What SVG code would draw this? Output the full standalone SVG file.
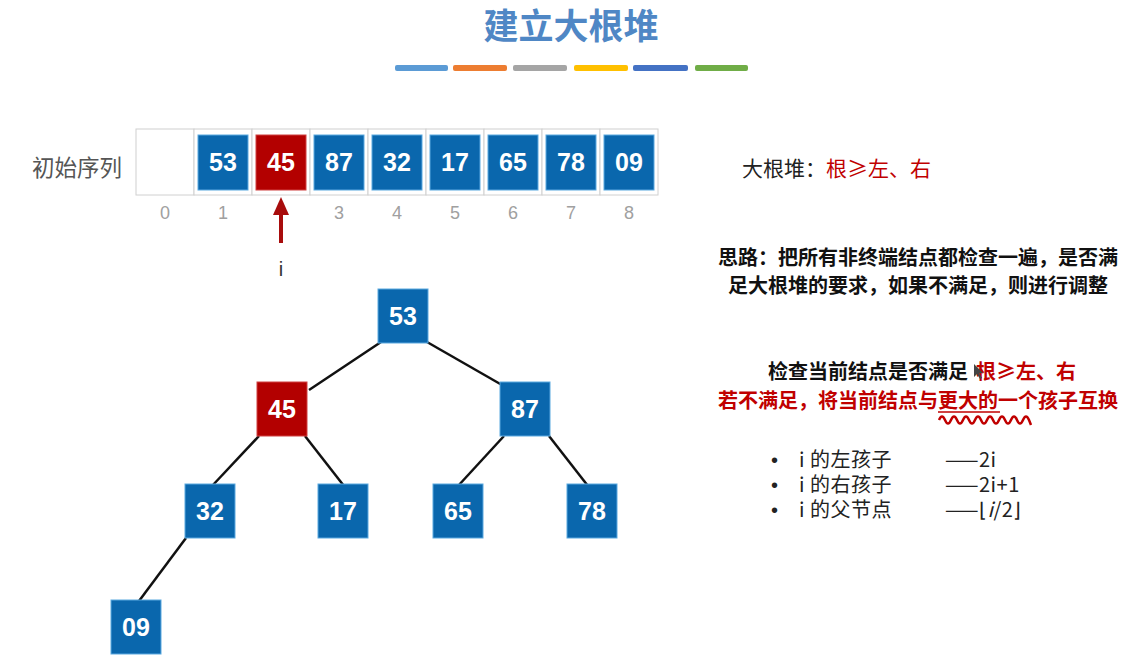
<svg xmlns="http://www.w3.org/2000/svg" width="1138" height="655" viewBox="0 0 1138 655">
<style>
.cell{fill:#fff;stroke:#d0d0d0;stroke-width:1}
.blue{fill:#0a67ad;stroke:#5aa9e0;stroke-width:1}
.red{fill:#b30000;stroke:#d04040;stroke-width:1}
.num{font-family:"Liberation Sans",Arial,sans-serif;font-weight:bold;font-size:25px;fill:#fff;text-anchor:middle}
.idx{font-family:"Liberation Sans",Arial,sans-serif;font-size:18px;fill:#a0a0a0;text-anchor:middle}
.cn{font-family:"Noto Sans CJK SC",sans-serif}
.edge{stroke:#111;stroke-width:2.5;fill:none}
.bul{font-family:"Noto Sans CJK SC",sans-serif;font-size:20px;fill:#222;letter-spacing:0.5px}
.dot{font-family:"Liberation Sans",Arial,sans-serif;font-size:20px;fill:#222}
</style>
<rect width="1138" height="655" fill="#fff"/>
<text x="571" y="39" class="cn" font-size="35" font-weight="bold" fill="#4f87c5" text-anchor="middle">建立大根堆</text>
<g id="bars">
<rect x="395" y="65" width="53" height="6" rx="2" fill="#5b9bd5"/>
<rect x="453" y="65" width="54" height="6" rx="2" fill="#ed7d31"/>
<rect x="513" y="65" width="54" height="6" rx="2" fill="#a5a5a5"/>
<rect x="574" y="65" width="54" height="6" rx="2" fill="#ffc000"/>
<rect x="633" y="65" width="55" height="6" rx="2" fill="#4472c4"/>
<rect x="695" y="65" width="53" height="6" rx="2" fill="#70ad47"/>
</g>
<text x="32" y="176" class="cn" font-size="22.5" fill="#555">初始序列</text>
<g id="array">
<rect class="cell" x="136" y="129" width="58" height="66"/>
<rect class="cell" x="194" y="129" width="58" height="66"/>
<rect class="cell" x="252" y="129" width="58" height="66"/>
<rect class="cell" x="310" y="129" width="58" height="66"/>
<rect class="cell" x="368" y="129" width="58" height="66"/>
<rect class="cell" x="426" y="129" width="58" height="66"/>
<rect class="cell" x="484" y="129" width="58" height="66"/>
<rect class="cell" x="542" y="129" width="58" height="66"/>
<rect class="cell" x="600" y="129" width="58" height="66"/>
<g id="a1"><rect class="blue" x="198" y="135" width="50" height="55"/><text class="num" x="223" y="171">53</text></g>
<g id="a2"><rect class="red" x="256" y="135" width="50" height="55"/><text class="num" x="281" y="171">45</text></g>
<g id="a3"><rect class="blue" x="314" y="135" width="50" height="55"/><text class="num" x="339" y="171">87</text></g>
<g id="a4"><rect class="blue" x="372" y="135" width="50" height="55"/><text class="num" x="397" y="171">32</text></g>
<g id="a5"><rect class="blue" x="430" y="135" width="50" height="55"/><text class="num" x="455" y="171">17</text></g>
<g id="a6"><rect class="blue" x="488" y="135" width="50" height="55"/><text class="num" x="513" y="171">65</text></g>
<g id="a7"><rect class="blue" x="546" y="135" width="50" height="55"/><text class="num" x="571" y="171">78</text></g>
<g id="a8"><rect class="blue" x="604" y="135" width="50" height="55"/><text class="num" x="629" y="171">09</text></g>
<text class="idx" x="165" y="219">0</text>
<text class="idx" x="223" y="219">1</text>
<text class="idx" x="339" y="219">3</text>
<text class="idx" x="397" y="219">4</text>
<text class="idx" x="455" y="219">5</text>
<text class="idx" x="513" y="219">6</text>
<text class="idx" x="571" y="219">7</text>
<text class="idx" x="629" y="219">8</text>
</g>
<g id="pointer">
<line x1="281" y1="243" x2="281" y2="212" stroke="#a80c0c" stroke-width="4"/>
<polygon points="273,215 289,215 281,197" fill="#a80c0c"/>
<text x="281" y="276" font-family="Liberation Sans, Arial, sans-serif" font-size="20" fill="#333" text-anchor="middle">i</text>
</g>
<g id="connectors">
<line class="edge" x1="381" y1="342" x2="309" y2="390"/>
<line class="edge" x1="427" y1="342" x2="502" y2="385"/>
<line class="edge" x1="259" y1="436" x2="212" y2="486"/>
<line class="edge" x1="305" y1="436" x2="344" y2="486"/>
<line class="edge" x1="504" y1="436" x2="458" y2="486"/>
<line class="edge" x1="549" y1="436" x2="588" y2="486"/>
<line class="edge" x1="186" y1="538" x2="139" y2="601"/>
</g>
<g id="n53"><rect class="blue" x="378" y="289" width="50" height="54"/><text class="num" x="403" y="325">53</text></g>
<g id="n45"><rect class="red" x="257" y="382" width="50" height="54"/><text class="num" x="282" y="418">45</text></g>
<g id="n87"><rect class="blue" x="500" y="382" width="50" height="54"/><text class="num" x="525" y="418">87</text></g>
<g id="n32"><rect class="blue" x="185" y="484" width="50" height="54"/><text class="num" x="210" y="520">32</text></g>
<g id="n17"><rect class="blue" x="318" y="484" width="50" height="54"/><text class="num" x="343" y="520">17</text></g>
<g id="n65"><rect class="blue" x="433" y="484" width="50" height="54"/><text class="num" x="458" y="520">65</text></g>
<g id="n78"><rect class="blue" x="567" y="484" width="50" height="54"/><text class="num" x="592" y="520">78</text></g>
<g id="n09"><rect class="blue" x="111" y="600" width="50" height="54"/><text class="num" x="136" y="636">09</text></g>
<g id="notes">
<text x="742" y="176" class="cn" font-size="21" fill="#222">大根堆：<tspan fill="#c00000">根≥左、右</tspan></text>
<text x="918" y="265" class="cn" font-size="20" font-weight="bold" fill="#111" text-anchor="middle">思路：把所有非终端结点都检查一遍，是否满</text>
<text x="918" y="293" class="cn" font-size="20" font-weight="bold" fill="#111" text-anchor="middle">足大根堆的要求，如果不满足，则进行调整</text>
<text x="768" y="379" class="cn" font-size="20" font-weight="bold" fill="#111">检查当前结点是否满足<tspan dx="8" fill="#c00000">根≥左、右</tspan></text>
<polygon points="974,364 974,377 977,374 980,379 982,378 979,373 983,373" fill="#444"/>
<text x="918" y="408" class="cn" font-size="20" font-weight="bold" fill="#c00000" text-anchor="middle">若不满足，将当前结点与更大的一个孩子互换</text>
<line x1="938" y1="412" x2="1000" y2="412" stroke="#c00000" stroke-width="1.5"/>
<path d="M939,420 q3,-7 6,0 q3,7 6,0 q3,-7 6,0 q3,7 6,0 q3,-7 6,0 q3,7 6,0 q3,-7 6,0 q3,7 6,0 q3,-7 6,0 q3,7 6,0 q3,-7 6,0 q3,7 6,0 q3,-7 6,0 q3,7 6,0 q3,-7 6,0 l2,5" fill="none" stroke="#c00000" stroke-width="2.5"/>
<text class="dot" x="771" y="467">•</text>
<text class="bul" x="799" y="467">i 的左孩子</text>
<text class="bul" x="945" y="467">——2i</text>
<text class="dot" x="771" y="492">•</text>
<text class="bul" x="799" y="492">i 的右孩子</text>
<text class="bul" x="945" y="492">——2i+1</text>
<text class="dot" x="771" y="517">•</text>
<text class="bul" x="799" y="517">i 的父节点</text>
<text class="bul" x="945" y="517">——⌊<tspan font-style="italic">i</tspan>/2⌋</text>
</g>
</svg>
